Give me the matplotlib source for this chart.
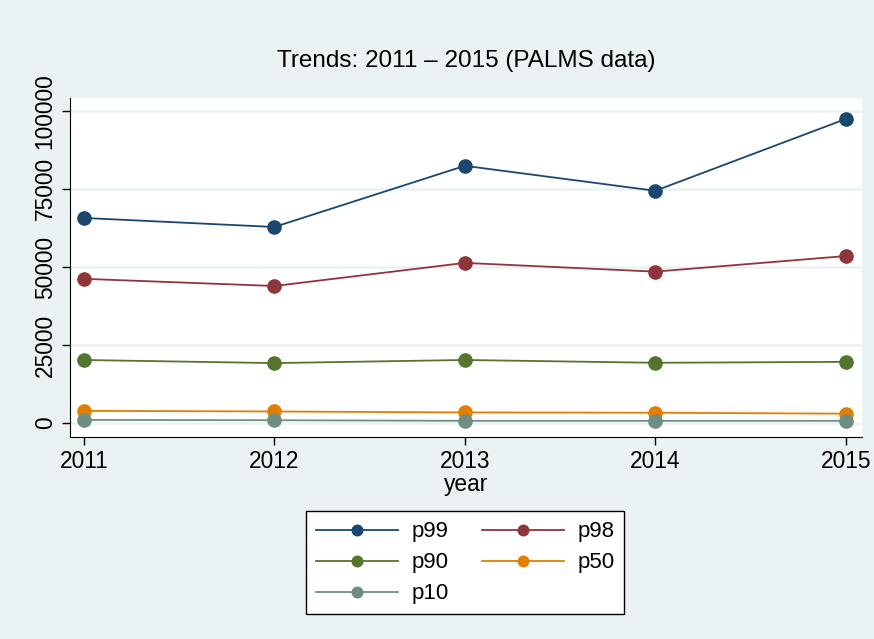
import matplotlib.pyplot as plt

years = [2011, 2012, 2013, 2014, 2015]
p99 = [65700, 62800, 82400, 74400, 97400]
p98 = [46200, 43900, 51300, 48500, 53500]
p90 = [20200, 19200, 20200, 19300, 19600]
p50 = [3900, 3700, 3400, 3300, 3000]
p10 = [1000, 900, 700, 700, 700]

series = [("p99", p99, "#1a476f"),
          ("p98", p98, "#90353b"),
          ("p90", p90, "#55752f"),
          ("p50", p50, "#e37e00"),
          ("p10", p10, "#6e8e84")]

bg = "#eaf2f3"
plt.rcParams["font.family"] = ["Liberation Sans", "DejaVu Sans"]

fig = plt.figure(figsize=(8.74, 6.39), dpi=100, facecolor=bg)
ax = fig.add_axes([0.080, 0.316, 0.906, 0.531])

lines = {}
for name, vals, col in series:
    lines[name], = ax.plot(years, vals, color=col, lw=1.3, marker="o", ms=9.5, label=name)

ax.set_xlim(2010.927, 2015.084)
ax.set_ylim(-4500, 104200)
ax.set_xticks(years)
ax.set_yticks([0, 25000, 50000, 75000, 100000])
ax.set_yticklabels(["0", "25000", "50000", "75000", "100000"], rotation=90, va="center")
ax.tick_params(labelsize=16.4, length=6, width=1, direction="out")
ax.grid(axis="y", color=bg, lw=1.8)
ax.set_axisbelow(True)
for s in ["top", "right"]:
    ax.spines[s].set_visible(False)
ax.set_xlabel("year", fontsize=16.4, labelpad=0)
ax.set_title("Trends: 2011 \u2013 2015 (PALMS data)", fontsize=17.5, pad=22)

# row-major order in 2 columns
order = ["p99", "p90", "p10", "p98", "p50"]
leg = fig.legend([lines[k] for k in order], order, loc="center",
                 bbox_to_anchor=(0.532, 0.119), ncol=2, fontsize=16,
                 frameon=True, fancybox=False, edgecolor="black", facecolor="white",
                 framealpha=1, handlelength=3.7, columnspacing=1.5, markerscale=0.8,
                 handletextpad=0.6, borderpad=0.45, labelspacing=0.45)
leg.get_frame().set_linewidth(1.0)

fig.savefig("out.png", dpi=100, facecolor=bg)
